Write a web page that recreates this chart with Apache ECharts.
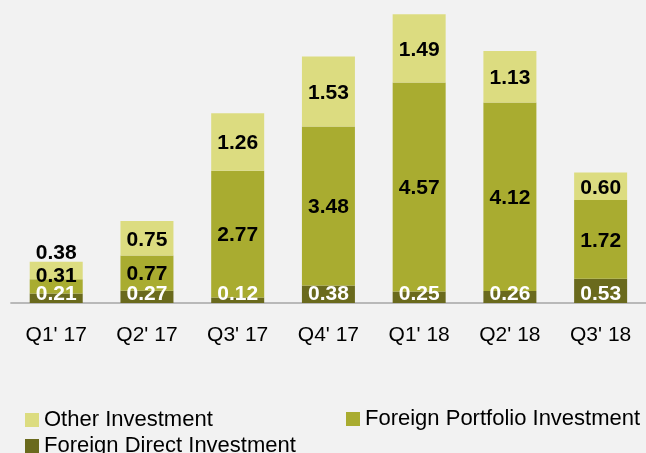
<!DOCTYPE html>
<html>
<head>
<meta charset="utf-8">
<script src="https://cdn.jsdelivr.net/npm/echarts@6/dist/echarts.min.js"></script>
<style>
html,body{margin:0;padding:0;background:#f2f2f2;}
#chart{width:646px;height:453px;}
</style>
</head>
<body>
<div id="chart"></div>
<script>
const categories = ["Q1' 17", "Q2' 17", "Q3' 17", "Q4' 17", "Q1' 18", "Q2' 18", "Q3' 18"];
const fdiValues = [0.21, 0.27, 0.12, 0.38, 0.25, 0.26, 0.53];
const portfolioValues = [0.31, 0.77, 2.77, 3.48, 4.57, 4.12, 1.72];
const otherValues = [0.38, 0.75, 1.26, 1.53, 1.49, 1.13, 0.60];
const seriesNames = ['Other Investment', 'Foreign Portfolio Investment', 'Foreign Direct Investment'];

const FONT = '"Liberation Sans", Arial, sans-serif';
const colors = { other: '#dcdc80', portfolio: '#a9ac30', fdi: '#6a6a1d' };

const labelBase = { show: true, fontFamily: FONT, fontSize: 21, fontWeight: 'bold', formatter: p => p.value.toFixed(2) };

function items(values, overrides) {
  return values.map((v, i) => overrides[i] ? { value: v, label: overrides[i] } : v);
}

const legendText = { fontFamily: FONT, fontSize: 22, color: '#000' };

const chart = echarts.init(document.getElementById('chart'), null, { renderer: 'canvas' });
chart.setOption({
  backgroundColor: '#f2f2f2',
  animation: false,
  grid: { left: 10.85, right: -4.2, top: 10.2, bottom: 150, containLabel: false },
  xAxis: {
    type: 'category',
    data: categories,
    axisLine: { show: true, lineStyle: { color: '#a6a6a6', width: 1.5 } },
    axisTick: { show: false },
    axisLabel: { color: '#000', fontFamily: FONT, fontSize: 21, margin: 22 }
  },
  yAxis: { type: 'value', min: 0, max: 6.4, show: false, splitLine: { show: false } },
  legend: [
    { data: [seriesNames[0]], left: 25, top: 409, padding: 0, icon: 'rect', itemWidth: 14, itemHeight: 14, textStyle: legendText },
    { data: [seriesNames[1]], left: 346, top: 408, padding: 0, icon: 'rect', itemWidth: 14, itemHeight: 14, textStyle: legendText },
    { data: [seriesNames[2]], left: 25, top: 435, padding: 0, icon: 'rect', itemWidth: 14, itemHeight: 14, textStyle: legendText }
  ],
  series: [
    { name: seriesNames[2], type: 'bar', stack: 'total', barWidth: 53,
      itemStyle: { color: colors.fdi },
      label: Object.assign({}, labelBase, { position: 'insideBottom', distance: -2, color: '#fff' }),
      data: fdiValues },
    { name: seriesNames[1], type: 'bar', stack: 'total', barWidth: 53,
      itemStyle: { color: colors.portfolio },
      label: Object.assign({}, labelBase, { position: 'inside', offset: [0, 1.5], color: '#000' }),
      data: items(portfolioValues, { 0: { offset: [0, -10] } }) },
    { name: seriesNames[0], type: 'bar', stack: 'total', barWidth: 53,
      itemStyle: { color: colors.other },
      label: Object.assign({}, labelBase, { position: 'inside', offset: [0, 1.5], color: '#000' }),
      data: items(otherValues, { 0: { position: 'top', distance: -2, offset: [0, 0] } }) }
  ]
});
</script>
</body>
</html>
